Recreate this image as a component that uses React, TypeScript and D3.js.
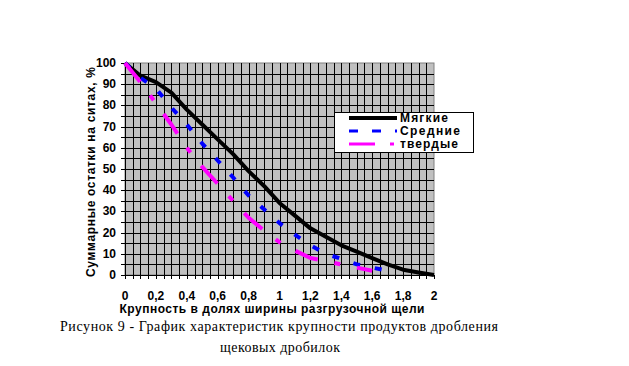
import React from 'react';
import * as d3 from 'd3';

// Крупность (доли ширины разгрузочной щели)
const xSoft = [0, 0.1, 0.2, 0.3, 0.4, 0.5, 0.6, 0.7, 0.8, 0.9, 1.0, 1.1, 1.2, 1.3, 1.4, 1.5, 1.6, 1.7, 1.8, 1.9, 2.0];
const ySoft = [100, 94, 91, 86, 78, 71, 64, 57, 49, 42, 34, 28, 22, 18, 14, 11, 8, 5, 2.5, 1.2, 0];

const xMedium = [0, 0.1, 0.2, 0.3, 0.4, 0.5, 0.6, 0.7, 0.8, 0.9, 1.0, 1.1, 1.2, 1.3, 1.4, 1.5, 1.6, 1.7];
const yMedium = [100, 93, 88, 79, 71, 62, 54, 46, 37.5, 31, 24.5, 19, 14, 10, 7.6, 5, 3.5, 2];

const xHard = [0, 0.1, 0.2, 0.3, 0.4, 0.5, 0.6, 0.7, 0.8, 0.9, 1.0, 1.1, 1.2, 1.3, 1.4, 1.5, 1.6];
const yHard = [100, 91, 81, 71, 60, 51, 43, 35, 27, 21, 15.5, 11.5, 8, 6.5, 5, 3.5, 2];

const seriesNames = ['Мягкие', 'Средние', 'твердые'];
const xTickLabels = ['0', '0,2', '0,4', '0,6', '0,8', '1', '1,2', '1,4', '1,6', '1,8', '2'];
const yTickLabels = ['0', '10', '20', '30', '40', '50', '60', '70', '80', '90', '100'];

const yTitle = 'Суммарные остатки на ситах, %';
const xTitle = 'Крупность в долях ширины разгрузочной щели';
const caption1 = 'Рисунок 9 - График характеристик крупности продуктов дробления';
const caption2 = 'щековых дробилок';

const W = 629, H = 366;
const plot = { left: 125, right: 434, top: 63, bottom: 275 };

const App: React.FC = () => {
  const x = d3.scaleLinear().domain([0, 2]).range([plot.left, plot.right]);
  const y = d3.scaleLinear().domain([0, 100]).range([plot.bottom, plot.top]);

  const line = d3.line<[number, number]>().x(d => x(d[0])).y(d => y(d[1]));
  const zip = (xs: number[], ys: number[]) => xs.map((v, i) => [v, ys[i]] as [number, number]);

  const series = [
    { name: seriesNames[0], pts: zip(xSoft, ySoft), color: '#000000', dash: undefined as string | undefined, legendDash: undefined as string | undefined },
    { name: seriesNames[1], pts: zip(xMedium, yMedium), color: '#0000ff', dash: '7 15', legendDash: '9 14' },
    { name: seriesNames[2], pts: zip(xHard, yHard), color: '#ff00ff', dash: '24 17 6 17', legendDash: '26 15 4 20' },
  ];

  const vGrid = d3.range(0, 41).map(i => i * 0.05);
  const hGrid = d3.range(0, 21).map(i => i * 5);
  const bold = { fontFamily: 'Liberation Sans, Arial, sans-serif', fontWeight: 700, fontSize: 12 } as const;

  const lg = { x: 334, y: 112, w: 139, h: 40 };

  return (
    <svg width={W} height={H} style={{ position: 'absolute', left: 0, top: 0, background: '#fff' }}>
      {/* plot area */}
      <rect x={plot.left} y={plot.top} width={plot.right - plot.left} height={plot.bottom - plot.top} fill="#c0c0c0" stroke="#808080" />
      {vGrid.slice(1, -1).map(v => (
        <line key={'v' + v} x1={Math.round(x(v)) + 0.5} x2={Math.round(x(v)) + 0.5} y1={plot.top} y2={plot.bottom} stroke="#000" />
      ))}
      {hGrid.slice(1, -1).map(v => (
        <line key={'h' + v} x1={plot.left} x2={plot.right} y1={Math.round(y(v)) + 0.5} y2={Math.round(y(v)) + 0.5} stroke="#000" />
      ))}

      {/* axes */}
      <line x1={plot.left + 0.5} x2={plot.left + 0.5} y1={plot.top} y2={plot.bottom + 1} stroke="#000" />
      <line x1={plot.left} x2={plot.right} y1={plot.bottom + 0.5} y2={plot.bottom + 0.5} stroke="#000" />
      {hGrid.map(v => (
        <line key={'yt' + v} x1={plot.left - 4} x2={plot.left} y1={Math.round(y(v)) + 0.5} y2={Math.round(y(v)) + 0.5} stroke="#000" />
      ))}
      {vGrid.map(v => (
        <line key={'xt' + v} x1={Math.round(x(v)) + 0.5} x2={Math.round(x(v)) + 0.5} y1={plot.bottom} y2={plot.bottom + 4} stroke="#000" />
      ))}
      {yTickLabels.map((t, i) => (
        <text key={'yl' + t} x={plot.left - 9} y={y(i * 10) + 4} textAnchor="end" style={bold}>{t}</text>
      ))}
      {xTickLabels.map((t, i) => (
        <text key={'xl' + t} x={x(i * 0.2)} y={300} textAnchor="middle" style={bold}>{t}</text>
      ))}

      {/* series */}
      {series.map(s => (
        <path key={s.name} d={line(s.pts) || ''} fill="none" stroke={s.color} strokeWidth={4} strokeDasharray={s.dash} strokeLinejoin="round" />
      ))}

      {/* legend */}
      <rect x={lg.x + 0.5} y={lg.y + 0.5} width={lg.w} height={lg.h} fill="#fff" stroke="#000" />
      {series.map((s, i) => (
        <g key={'lg' + s.name}>
          <line x1={349} x2={397} y1={118 + i * 13} y2={118 + i * 13} stroke={s.color} strokeWidth={i === 0 ? 4 : 3} strokeDasharray={s.legendDash} />
          <text x={400} y={122 + i * 13} style={bold} textLength={i === 0 ? 48 : i === 1 ? 60 : 58} lengthAdjust="spacing">{s.name}</text>
        </g>
      ))}

      {/* titles */}
      <text transform={`translate(95,${(plot.top + plot.bottom) / 2 + 3}) rotate(-90)`} textAnchor="middle" style={bold} textLength={210} lengthAdjust="spacing">{yTitle}</text>
      <text x={272} y={313} textAnchor="middle" style={bold} textLength={305} lengthAdjust="spacing">{xTitle}</text>
      <text x={279} y={331} textAnchor="middle" style={{ fontFamily: 'Liberation Serif, Times New Roman, serif', fontSize: 14 }} textLength={438} lengthAdjust="spacing">{caption1}</text>
      <text x={280} y={352} textAnchor="middle" style={{ fontFamily: 'Liberation Serif, Times New Roman, serif', fontSize: 14 }} textLength={120} lengthAdjust="spacing">{caption2}</text>
    </svg>
  );
};

export default App;
